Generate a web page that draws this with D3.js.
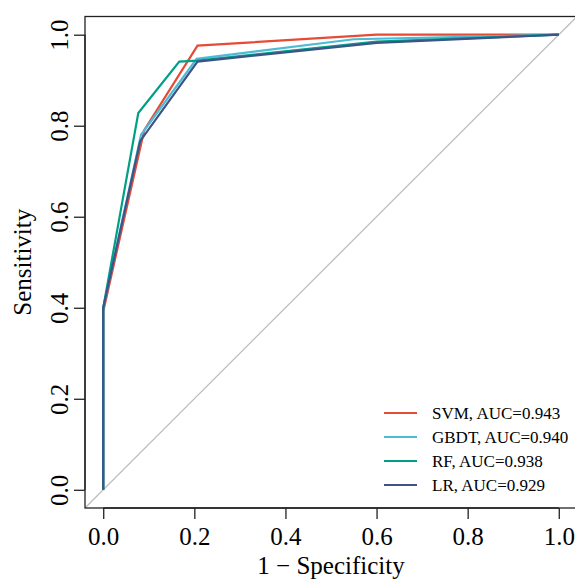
<!DOCTYPE html>
<html><head><meta charset="utf-8">
<script src="https://cdn.jsdelivr.net/npm/d3@7"></script>
<style>html,body{margin:0;padding:0;background:#fff;}svg{display:block;}</style>
</head><body>
<svg id="chart" width="575" height="579"></svg>
<script>
const seriesNames = ["SVM", "GBDT", "RF", "LR"];
const seriesAUC = ["0.943", "0.940", "0.938", "0.929"];
const seriesColors = ["#E64B35", "#4DBBD5", "#00A087", "#3C5488"];
const svmFpr = [0, 0, 0.09, 0.207, 0.6, 1];
const svmTpr = [0, 0.392, 0.79, 0.976, 1, 1];
const gbdtFpr = [0, 0, 0.083, 0.205, 0.55, 1];
const gbdtTpr = [0, 0.40, 0.78, 0.947, 0.99, 1];
const rfFpr = [0, 0, 0.077, 0.167, 0.207, 0.6, 1];
const rfTpr = [0, 0.40, 0.828, 0.941, 0.943, 0.985, 1];
const lrFpr = [0, 0, 0.081, 0.207, 0.6, 1];
const lrTpr = [0, 0.40, 0.766, 0.941, 0.982, 1];
const xTicks = [0, 0.2, 0.4, 0.6, 0.8, 1.0];
const yTicks = [0, 0.2, 0.4, 0.6, 0.8, 1.0];
const xTitle = "1 \u2212 Specificity";
const yTitle = "Sensitivity";

const series = [
  {fpr: svmFpr, tpr: svmTpr},
  {fpr: gbdtFpr, tpr: gbdtTpr},
  {fpr: rfFpr, tpr: rfTpr},
  {fpr: lrFpr, tpr: lrTpr}
].map((s, i) => ({name: seriesNames[i], auc: seriesAUC[i], color: seriesColors[i],
  pts: s.fpr.map((f, j) => [f, s.tpr[j]])}));

const svg = d3.select("#chart");
const font = "'Liberation Serif', 'Times New Roman', serif";
const pL = 85, pR = 577, pT = 16.5, pB = 508;
const x = d3.scaleLinear().domain([-0.04, 1.04]).range([pL, pR]);
const y = d3.scaleLinear().domain([-0.04, 1.04]).range([pB, pT]);

svg.append("defs").append("clipPath").attr("id", "clip")
  .append("rect").attr("x", pL).attr("y", pT).attr("width", pR - pL).attr("height", pB - pT);

const plot = svg.append("g").attr("clip-path", "url(#clip)");
plot.append("line")
  .attr("x1", x(-0.04)).attr("y1", y(-0.04)).attr("x2", x(1.04)).attr("y2", y(1.04))
  .attr("stroke", "#BEBEBE").attr("stroke-width", 1.3);

const line = d3.line().x(d => x(d[0])).y(d => y(d[1]));
plot.selectAll("path.roc").data(series).enter().append("path")
  .attr("class", "roc")
  .attr("d", d => line(d.pts))
  .attr("fill", "none").attr("stroke", d => d.color)
  .attr("stroke-width", 2.2).attr("stroke-linejoin", "miter");

svg.append("rect").attr("x", pL).attr("y", pT).attr("width", pR - pL).attr("height", pB - pT)
  .attr("fill", "none").attr("stroke", "#222").attr("stroke-width", 1.3);

const xAxis = d3.axisBottom(x).tickValues(xTicks).tickFormat(d3.format(".1f")).tickSize(11).tickPadding(8);
const gx = svg.append("g").attr("transform", `translate(0,${pB})`).call(xAxis);
gx.select(".domain").attr("d", `M${x(0)},0H${x(1)}`).attr("stroke", "#222").attr("stroke-width", 1.3);
gx.selectAll(".tick line").attr("stroke", "#222").attr("stroke-width", 1.3);
gx.selectAll(".tick text").attr("font-family", font).attr("font-size", 25).attr("fill", "#000");

const yAxis = d3.axisLeft(y).tickValues(yTicks).tickFormat(d3.format(".1f")).tickSize(11);
const gy = svg.append("g").attr("transform", `translate(${pL},0)`).call(yAxis);
gy.select(".domain").attr("d", `M0,${y(0)}V${y(1)}`).attr("stroke", "#222").attr("stroke-width", 1.3);
gy.selectAll(".tick line").attr("stroke", "#222").attr("stroke-width", 1.3);
gy.selectAll(".tick text").attr("font-family", font).attr("font-size", 25).attr("fill", "#000")
  .attr("x", 0).attr("dy", null)
  .attr("text-anchor", "middle")
  .attr("transform", "translate(-17,0) rotate(-90)");

svg.append("text").attr("x", (x(0) + x(1)) / 2).attr("y", 573.5)
  .attr("text-anchor", "middle").attr("font-family", font).attr("font-size", 25).text(xTitle);
svg.append("text").attr("transform", `translate(31,${(y(0) + y(1)) / 2}) rotate(-90)`)
  .attr("text-anchor", "middle").attr("font-family", font).attr("font-size", 25).text(yTitle);

const leg = svg.append("g");
series.forEach((s, i) => {
  const ly = 413 + i * 24;
  leg.append("line").attr("x1", 384).attr("x2", 417).attr("y1", ly).attr("y2", ly)
    .attr("stroke", s.color).attr("stroke-width", 2.2);
  leg.append("text").attr("x", 432).attr("y", ly).attr("dy", "0.35em")
    .attr("font-family", font).attr("font-size", 17).text(`${s.name}, AUC=${s.auc}`);
});
</script>
</body></html>
